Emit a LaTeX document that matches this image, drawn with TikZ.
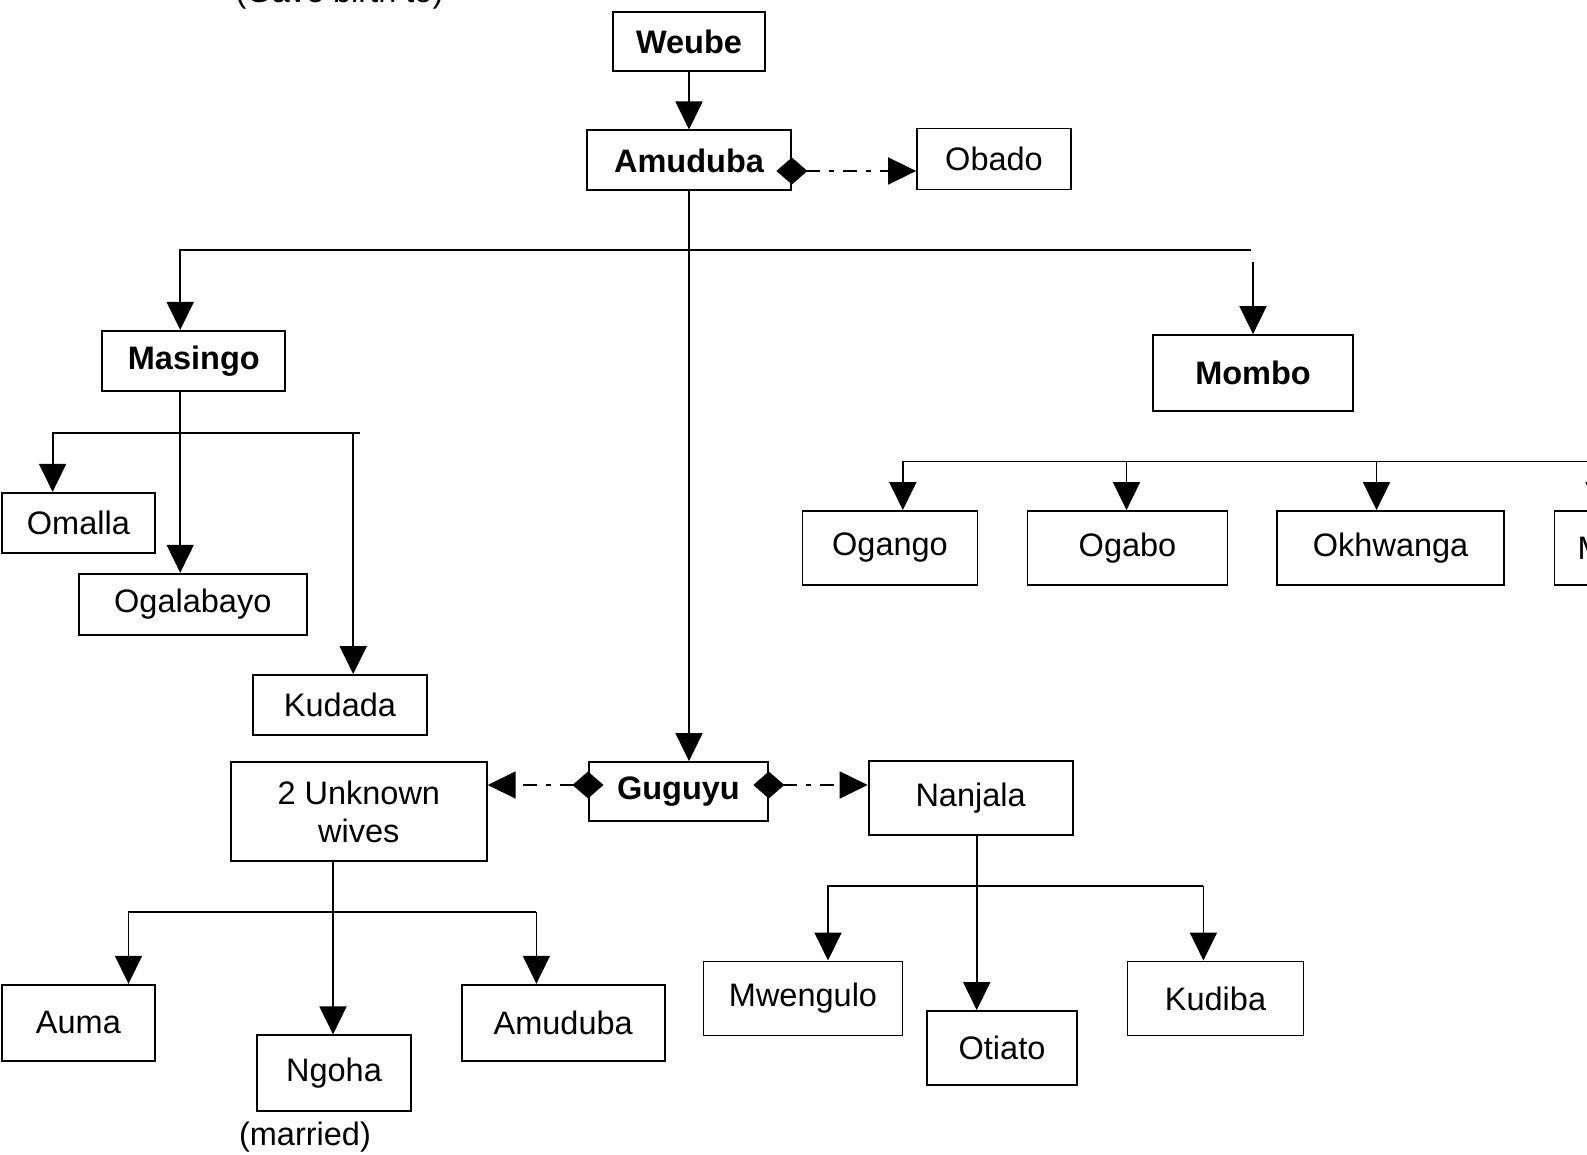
\documentclass[tikz,border=0pt]{standalone}
\usepackage{fontspec}
\setmainfont{Liberation Sans}
\usetikzlibrary{arrows.meta,calc}
\begin{document}
\begin{tikzpicture}[x=1pt,y=-1pt,
  txt/.style={font=\fontsize{32.5}{38.5}\selectfont},
  box/.style={draw,line width=1.8pt,rectangle,inner sep=0pt,txt,align=center},
  bbox/.style={box,font=\fontsize{32.5}{38.5}\selectfont\bfseries},
  ln/.style={line width=1.8pt},
  arr/.style={ln,-{Triangle[length=28pt,width=27pt]}},
  rel/.style={ln,dash pattern=on 14pt off 9pt on 5pt off 9pt,{Diamond[length=31pt,width=27pt]}-{Triangle[length=28pt,width=27pt]}},
]
\useasboundingbox[fill=white] (0,0) rectangle (1587,1155);

% nodes
\node[bbox,minimum width=152pt,minimum height=59pt] (weube) at (689,41.5) {Weube};
\node[bbox,minimum width=204pt,minimum height=60pt] (amu) at (689,160.4) {Amuduba};
\node[box,minimum width=154pt,minimum height=61pt] (obado) at (994,159) {Obado};
\node[bbox,minimum width=183pt,minimum height=60pt] (masingo) at (193.8,360.8) {Masingo};
\node[bbox,minimum width=200pt,minimum height=76pt] (mombo) at (1253,373) {Mombo};
\node[box,minimum width=153pt,minimum height=60pt] (omalla) at (78.4,522.8) {Omalla};
\node[box,minimum width=228pt,minimum height=61pt] (ogal) at (192.8,604.2) {Ogalabayo};
\node[box,minimum width=174pt,minimum height=60pt] (kudada) at (340,705) {Kudada};
\node[box,minimum width=175pt,minimum height=74pt] (ogango) at (890,548) {Ogango};
\node[box,minimum width=200pt,minimum height=74pt] (ogabo) at (1127.5,548) {Ogabo};
\node[box,minimum width=227pt,minimum height=74pt] (okh) at (1390.6,548) {Okhwanga};
\node[box,minimum height=74pt,anchor=west,inner xsep=23pt] (mx) at (1553.6,548) {\makebox[160pt][l]{M}};
\node[box,minimum width=256pt,minimum height=99pt] (wives) at (358.8,811.7) {2 Unknown\\wives};
\node[bbox,minimum width=179pt,minimum height=59pt] (guguyu) at (678.4,791.5) {Guguyu};
\node[box,minimum width=204pt,minimum height=74pt] (nanjala) at (970.6,798) {Nanjala};
\node[box,minimum width=153pt,minimum height=76pt] (auma) at (78.4,1022.7) {Auma};
\node[box,minimum width=154pt,minimum height=76pt] (ngoha) at (334,1073.3) {Ngoha};
\node[box,minimum width=203pt,minimum height=76pt] (amu2) at (563.2,1022.7) {Amuduba};
\node[box,minimum width=199pt,minimum height=74pt] (mweng) at (803,998.4) {Mwengulo};
\node[box,minimum width=150pt,minimum height=74pt] (otiato) at (1002,1048) {Otiato};
\node[box,minimum width=176pt,minimum height=74pt] (kudiba) at (1215.5,998.4) {Kudiba};

\node[txt,anchor=base,inner sep=0pt] (gave) at (339.5,3) {(Gave birth to)};
\node[txt,anchor=base,inner sep=0pt] (married) at (305,1145) {(married)};

% Weube -> Amuduba
\draw[arr] (weube) -- (amu);
% Amuduba children
\coordinate (mL) at (180.2,250);
\coordinate (mR) at (1251,250);
\draw[arr] (mR) -- (mL) -- (mL |- masingo.north);
\draw[arr] (amu.south) -- (amu.south |- guguyu.north);
\coordinate (mtop) at (1253,262);
\draw[arr] (mtop) -- (mombo.north);
% Amuduba -> Obado
\coordinate (obl) at (0,171);
\draw[rel] ($(amu.east |- obl)+(-15.5,0)$) -- (obado.west |- obl);

% Masingo children
\coordinate (msv) at (180.2,0);
\draw[arr] (msv |- masingo.south) -- (msv |- ogal.north);
\coordinate (msL) at (52.6,433.2);
\coordinate (msR) at (360.3,433.2);
\draw[arr] (msR) -- (msL) -- (msL |- omalla.north);
\coordinate (kdv) at (353.2,433.2);
\draw[arr] (kdv) -- (kdv |- kudada.north);

% Mombo children
\coordinate (mbL) at (902.8,461.5);
\coordinate (mbR) at (1610,461.5);
\draw[arr] (mbR) -- (mbL) -- (mbL |- ogango.north);
\coordinate (mb2) at (1126.5,461.5);
\draw[arr] (mb2) -- (mb2 |- ogabo.north);
\coordinate (mb3) at (1376.5,461.5);
\draw[arr] (mb3) -- (mb3 |- okh.north);
\coordinate (mb4) at (1599,461.5);
\draw[arr] (mb4) -- (mb4 |- mx.north);

% Guguyu marriages
\coordinate (gl) at (0,785);
\draw[rel] ($(guguyu.west |- gl)+(15.5,0)$) -- (wives.east |- gl);
\draw[rel] ($(guguyu.east |- gl)+(-15.5,0)$) -- (nanjala.west |- gl);

% Wives children
\coordinate (wv) at (333,0);
\draw[arr] (wv |- wives.south) -- (wv |- ngoha.north);
\coordinate (wL) at (128.5,911.9);
\coordinate (wR) at (536.4,911.9);
\draw[arr] (wR) -- (wL) -- (wL |- auma.north);
\draw[arr] (wR) -- (wR |- amu2.north);

% Nanjala children
\coordinate (nv) at (976.7,0);
\draw[arr] (nv |- nanjala.south) -- (nv |- otiato.north);
\coordinate (nL) at (828,885.6);
\coordinate (nR) at (1203.4,885.6);
\draw[arr] (nR) -- (nL) -- (nL |- mweng.north);
\draw[arr] (nR) -- (nR |- kudiba.north);
\end{tikzpicture}
\end{document}
